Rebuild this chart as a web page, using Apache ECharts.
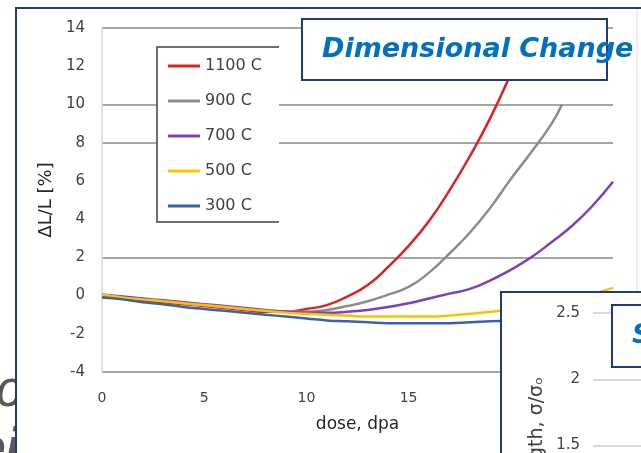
<!DOCTYPE html>
<html>
<head>
<meta charset="utf-8">
<script src="https://cdn.jsdelivr.net/npm/echarts@6/dist/echarts.min.js"></script>
<style>
html,body{margin:0;padding:0;background:#fff;}
#chart{width:641px;height:453px;}
</style>
</head>
<body>
<div id="chart"></div>
<script>
// ---- data ----
const seriesNames = ['1100 C', '900 C', '700 C', '500 C', '300 C'];
const dose = [0,1,2,3,4,5,6,7,8,9,10,11,12,13,14,15,16,17,18,19,20,21,22,23,24,25];
const doseGray = [0,1,2,3,4,5,6,7,8,9,10,11,12,13,14,15,16,17,18,19,20,21,22,22.5];
const v1100 = [-0.05,-0.15,-0.25,-0.35,-0.45,-0.55,-0.65,-0.75,-0.85,-0.85,-0.7,-0.5,-0.05,0.55,1.5,2.6,3.9,5.5,7.3,9.3,11.6,14.2];
const v900  = [0,-0.1,-0.2,-0.3,-0.4,-0.5,-0.6,-0.7,-0.8,-0.85,-0.85,-0.75,-0.55,-0.3,0.05,0.45,1.2,2.2,3.3,4.6,6.1,7.5,9.0,10.0];
const v700  = [0.05,-0.05,-0.15,-0.25,-0.35,-0.45,-0.55,-0.65,-0.75,-0.85,-0.9,-0.9,-0.85,-0.75,-0.6,-0.4,-0.15,0.1,0.35,0.8,1.35,2.0,2.8,3.65,4.7,5.95];
const v500  = [0.05,-0.1,-0.2,-0.3,-0.4,-0.5,-0.6,-0.7,-0.8,-0.9,-0.95,-1.0,-1.05,-1.1,-1.1,-1.1,-1.1,-1.05,-0.95,-0.85,-0.72,-0.55,-0.35,-0.12,0.1,0.4];
const v300  = [-0.1,-0.2,-0.35,-0.45,-0.6,-0.7,-0.8,-0.9,-1.0,-1.1,-1.2,-1.3,-1.35,-1.4,-1.45,-1.45,-1.45,-1.45,-1.4,-1.35,-1.3,-1.25,-1.15,-1.05,-0.9,-0.75];
const yTicks = {min: -4, max: 14, interval: 2};
const xTicks = {min: 0, max: 25, interval: 5};
const insetTicks = {min: 1.5, max: 2.5, interval: 0.5};

const colors = ['#e0201c', '#8c8c8c', '#7b3fc0', '#ffc000', '#3a62ac'];
const valueSets = [v1100, v900, v700, v500, v300];
const doseSets = [dose, doseGray, dose, dose, dose];

const navy = '#1f3a7e';
const blue = '#0070c0';
const fam = 'DejaVu Sans';

const series = seriesNames.map((n, i) => ({
  name: n,
  type: 'line',
  smooth: true,
  symbol: 'none',
  xAxisIndex: 0,
  yAxisIndex: 0,
  clip: true,
  lineStyle: {width: 2.5, color: colors[i]},
  itemStyle: {color: colors[i]},
  data: valueSets[i].map((v, k) => [doseSets[i][k], v])
}));

// gridline visibility as in the picture (-4 .. 14)
const G = '#a6a6a6', T = 'rgba(0,0,0,0)';
const splitColors = [G, T, T, G, T, T, G, G, T, G];

const chart = echarts.init(document.getElementById('chart'));
chart.setOption({
  backgroundColor: '#ffffff',
  animation: false,
  grid: [
    {left: 102, top: 28, right: 28, bottom: 81},
    {left: 593, top: 313, right: 0, bottom: 2}
  ],
  xAxis: [
    {type: 'value', gridIndex: 0, min: xTicks.min, max: xTicks.max, interval: xTicks.interval,
     name: 'dose, dpa', nameLocation: 'middle', nameGap: 44,
     nameTextStyle: {fontFamily: fam, fontSize: 17, color: '#262626'},
     axisLine: {show: false}, axisTick: {show: false}, splitLine: {show: false},
     axisLabel: {fontFamily: fam, fontSize: 14, color: '#404040', margin: 19}},
    {type: 'value', gridIndex: 1, min: 0, max: 1, show: false}
  ],
  yAxis: [
    {type: 'value', gridIndex: 0, min: yTicks.min, max: yTicks.max, interval: yTicks.interval,
     name: 'ΔL/L [%]', nameLocation: 'middle', nameGap: 43, nameRotate: 90,
     nameTextStyle: {fontFamily: fam, fontSize: 18, color: '#262626'},
     axisLine: {show: true, lineStyle: {color: '#d9d9d9', width: 1.5}},
     axisTick: {show: false},
     splitLine: {show: true, lineStyle: {color: splitColors, width: 1.8}},
     axisLabel: {fontFamily: fam, fontSize: 15, color: '#404040', margin: 17}},
    {type: 'value', gridIndex: 1, min: insetTicks.min, max: insetTicks.max, interval: insetTicks.interval, z: 11,
     axisLine: {show: false}, axisTick: {show: false},
     splitLine: {show: true, lineStyle: {color: '#d8d8e4', width: 2}},
     axisLabel: {fontFamily: fam, fontSize: 15, color: '#404040', margin: 13}}
  ],
  legend: {
    data: seriesNames,
    orient: 'vertical',
    left: 168, top: 58,
    padding: 0,
    icon: 'path://M0,0L32,0L32,3L0,3Z',
    itemWidth: 32, itemHeight: 16, itemGap: 19,
    z: 6,
    textStyle: {fontFamily: fam, fontSize: 16, color: '#404040', lineHeight: 16}
  },
  series: series,
  graphic: [
    // slide fragments left of the frame
    {type: 'text', z: -6, x: 22, y: 418, style: {text: 'lc', align: 'right', verticalAlign: 'bottom', font: 'italic 52px "Liberation Sans"', fill: '#595959'}},
    {type: 'text', z: -6, x: 20, y: 476, style: {text: 'ei', align: 'right', verticalAlign: 'bottom', font: 'italic bold 52px "Liberation Sans"', fill: '#595959'}},
    {type: 'rect', z: -5, shape: {x: 17, y: 9, width: 700, height: 500}, style: {fill: '#ffffff'}},
    {type: 'rect', z: 1, shape: {x: 16, y: 8, width: 700, height: 500}, style: {fill: 'none', stroke: navy, lineWidth: 2}},
    {type: 'line', z: 1, shape: {x1: 637, y1: 10, x2: 637, y2: 292}, style: {stroke: '#dcdce6', lineWidth: 1}},
    // legend frame
    {type: 'rect', z: 4, shape: {x: 157, y: 47, width: 122, height: 175}, style: {fill: '#ffffff'}},
    {type: 'polyline', z: 5, shape: {points: [[279, 47], [157, 47], [157, 222], [279, 222]]}, style: {fill: 'none', stroke: '#404040', lineWidth: 1.5}},
    // title box
    {type: 'rect', z: 10, shape: {x: 302, y: 19, width: 305, height: 61}, style: {fill: '#ffffff', stroke: navy, lineWidth: 2}},
    {type: 'text', z: 11, x: 322, y: 50, style: {text: 'Dimensional Change', align: 'left', verticalAlign: 'middle', font: 'italic bold 27px "DejaVu Sans"', fill: blue}},
    // inset chart box
    {type: 'rect', z: 10, shape: {x: 501, y: 292, width: 200, height: 200}, style: {fill: '#ffffff', stroke: navy, lineWidth: 2}},
    {type: 'text', z: 12, x: 537, y: 377, rotation: Math.PI / 2, style: {text: 'Strength, σ/σₒ', align: 'right', verticalAlign: 'middle', font: '19px "DejaVu Sans"', fill: '#404040'}},
    {type: 'rect', z: 12, shape: {x: 612, y: 305, width: 100, height: 62}, style: {fill: '#ffffff', stroke: navy, lineWidth: 2}},
    {type: 'text', z: 13, x: 632, y: 336, style: {text: 'S', align: 'left', verticalAlign: 'middle', font: 'italic bold 27px "DejaVu Sans"', fill: blue}}
  ]
});
</script>
</body>
</html>
